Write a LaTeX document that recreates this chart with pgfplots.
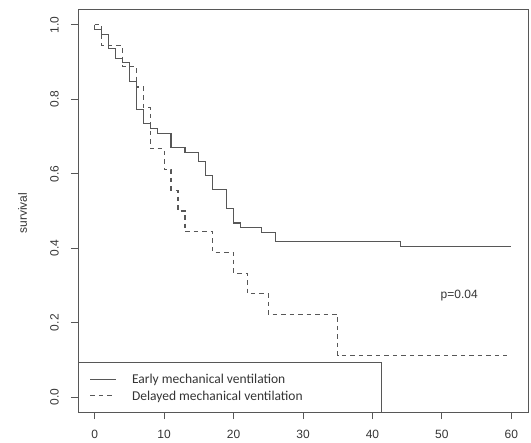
\documentclass[border=0pt]{standalone}
\usepackage{fontspec}
\setmainfont{Liberation Sans}
\newfontfamily\legfont{Carlito}
\usepackage{pgfplots}
\pgfplotsset{compat=1.18}
\definecolor{linegray}{HTML}{575757}
\definecolor{textgray}{HTML}{353535}

\newcommand{\rfont}{\fontsize{12bp}{14bp}\selectfont}

\begin{document}
\begin{tikzpicture}
\useasboundingbox (0,0) rectangle (531bp,443bp);
\begin{axis}[
    at={(78bp,31bp)}, anchor=south west,
    scale only axis, width=450bp, height=402bp,
    xmin=-2.4, xmax=62.4, ymin=-0.04, ymax=1.04,
    axis line style={linegray, line width=1bp},
    xtick={0,10,20,30,40,50,60},
    ytick={0,0.2,0.4,0.6,0.8,1.0},
    yticklabels={0.0,0.2,0.4,0.6,0.8,1.0},
    xtick pos=bottom, ytick pos=left,
    tick align=outside, major tick length=7bp,
    tick style={linegray, line width=1bp},
    /pgf/number format/assume math mode=true,
    ticklabel style={font=\rfont, text=textgray, inner sep=0pt},
    xticklabel style={anchor=north},
    yticklabel style={rotate=90, anchor=south},
    xticklabel shift=11bp,
    yticklabel shift=12bp,
    ylabel={survival},
    ylabel style={at={(axis description cs:-0.1233,0.495)}, anchor=center, font=\rfont, text=textgray, inner sep=0pt},
    clip=false,
]
% Early mechanical ventilation
\addplot[const plot, linegray, line width=1.2bp] coordinates {
    (0,1) (0,0.988) (1,0.975) (2,0.937) (3,0.910) (4,0.899) (5,0.848)
    (6,0.772) (7,0.734) (8,0.722) (9,0.709) (11,0.671) (13,0.658)
    (15,0.633) (16,0.595) (17,0.557) (19,0.506) (20,0.468) (21,0.456)
    (24,0.443) (26,0.418) (44,0.404) (59.9,0.404)
};
% Delayed mechanical ventilation
\addplot[const plot, linegray, line width=1.2bp, dash pattern=on 4.5bp off 4bp] coordinates {
    (0,1) (1,0.944) (4,0.889) (6,0.833) (7,0.778) (8,0.667) (10,0.611)
    (11,0.556) (12,0.5) (13,0.444) (17,0.389) (20,0.333) (22,0.278)
    (25,0.222) (35,0.111) (59.4,0.111)
};
% legend
\draw[linegray, line width=1bp, fill=white] (axis cs:-2.4,-0.04) rectangle (axis cs:41.3,0.094);
\draw[linegray, line width=1.2bp] (axis cs:-0.62,0.048) -- (axis cs:3.0,0.048);
\draw[linegray, line width=1.2bp, dash pattern=on 4.5bp off 4bp] (axis cs:-0.62,0.005) -- (axis cs:3.0,0.005);
\node[anchor=base west, inner sep=0pt, font=\legfont\fontsize{13.5bp}{15bp}\selectfont, text=textgray]
    at (axis cs:5.35,0.0368) {Early mechanical ventilation};
\node[anchor=base west, inner sep=0pt, font=\legfont\fontsize{13.5bp}{15bp}\selectfont, text=textgray]
    at (axis cs:5.35,-0.0094) {Delayed mechanical ventilation};
\node[anchor=base, inner sep=0pt, font=\rfont, text=textgray] at (axis cs:52.5,0.265) {p=0.04};
\end{axis}
\end{tikzpicture}
\end{document}
